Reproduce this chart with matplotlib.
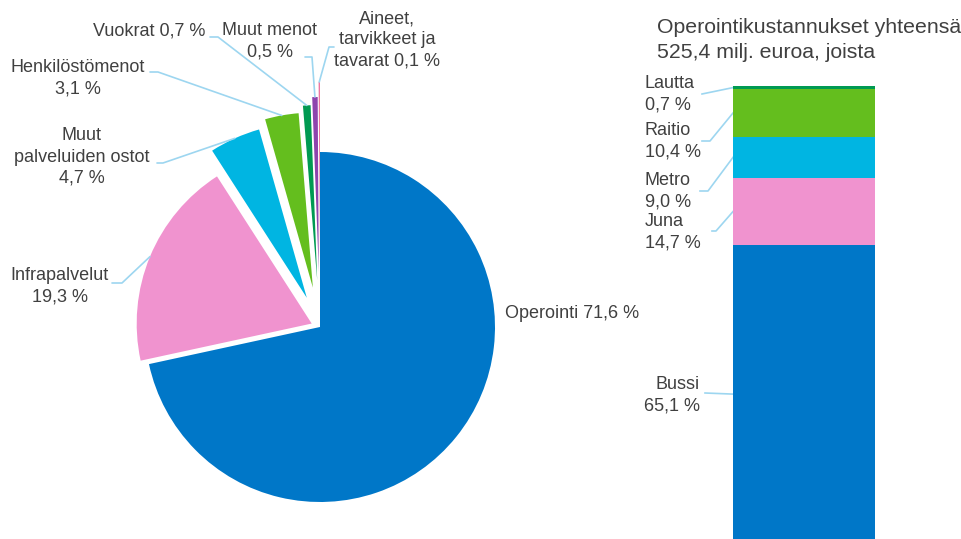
import numpy as np
import matplotlib
matplotlib.use("Agg")
import matplotlib.pyplot as plt

plt.rcParams['font.family'] = ['Liberation Sans', 'DejaVu Sans']

# pie: cost breakdown (%)
pie_labels = ['Operointi 71,6 %', 'Infrapalvelut\n19,3 %', 'Muut\npalveluiden ostot\n4,7 %',
              'Henkilöstömenot\n3,1 %', 'Vuokrat 0,7 %', 'Muut menot\n0,5 %',
              'Aineet,\ntarvikkeet ja\ntavarat 0,1 %']
pie_values = [71.6, 19.3, 4.7, 3.1, 0.7, 0.5, 0.1]
pie_colors = ['#0077c8', '#f093cf', '#00b5e2', '#64be1e', '#009a52', '#8e44ad', '#e8508a']

# stacked bar: operating costs by mode (%)
bar_labels = ['Bussi\n65,1 %', 'Juna\n14,7 %', 'Metro\n9,0 %', 'Raitio\n10,4 %', 'Lautta\n0,7 %']
bar_values = [65.1, 14.7, 9.0, 10.4, 0.7]
bar_colors = ['#0077c8', '#f093cf', '#00b5e2', '#64be1e', '#009a52']
bar_title = 'Operointikustannukset yhteensä\n525,4 milj. euroa, joista'

W, H = 962, 539
txt = '#404040'
lead = '#9dd6f0'
fs = 13

def py(y):
    # pixel row -> data y
    return H - y

fig = plt.figure(figsize=(W / 100, H / 100), dpi=100)
ax = fig.add_axes([0, 0, 1, 1])

# explode offsets in pixels
explode = [0, 9, 32, 40, 47, 55, 70]
wedges, _ = ax.pie(pie_values, center=(320, py(327)), radius=175, startangle=90,
                   counterclock=False, colors=pie_colors, explode=explode,
                   wedgeprops=dict(linewidth=0))
ax.set_xlim(0, W)
ax.set_ylim(0, H)
ax.set_aspect('auto')
ax.axis('off')

def wedge_tip(w):
    th = np.deg2rad((w.theta1 + w.theta2) / 2)
    cx, cy = w.center
    return cx + w.r * np.cos(th), cy + w.r * np.sin(th)

# label text anchors (x, y pixel, ha) and leader start points
pie_txt = [(505, 313, 'left'), (60, 286, 'center'), (82, 157, 'center'),
           (78, 78, 'center'), (205, 31, 'right'), (270, 41, 'center'),
           (387, 40, 'center')]
pie_lead = [None, [(112, 283), (122, 283)], [(157, 163), (163, 163)],
            [(150, 72), (158, 72)], [(210, 37), (218, 37)], [(305, 57), (312, 57)],
            [(334, 47), (329, 47)]]

for w, lab, (tx, ty, ha), ld in zip(wedges, pie_labels, pie_txt, pie_lead):
    ax.text(tx, py(ty), lab, ha=ha, va='center', fontsize=fs, color=txt,
            multialignment='center', linespacing=1.32)
    if ld is not None:
        ex, ey = wedge_tip(w)
        xs = [p[0] for p in ld] + [ex]
        ys = [py(p[1]) for p in ld] + [ey]
        ax.plot(xs, ys, color=lead, lw=1.2, solid_capstyle='round')

# stacked bar in its own axes
bx0, bx1, btop, bbot = 733, 875, 86, 543
bax = fig.add_axes([bx0 / W, (H - bbot) / H, (bx1 - bx0) / W, (bbot - btop) / H])
bottoms = np.concatenate([[0], np.cumsum(bar_values)[:-1]])
bax.bar([0] * len(bar_values), bar_values, bottom=bottoms, width=1, color=bar_colors,
        linewidth=0)
bax.set_xlim(-0.5, 0.5)
bax.set_ylim(0, sum(bar_values))
bax.axis('off')

bar_txt = [(700, 395, 'right'), (645, 232, 'left'), (645, 191, 'left'),
           (645, 141, 'left'), (645, 94, 'left')]
bar_lead = [[(705, 393)], [(712, 231), (716, 231)], [(700, 191), (708, 191)],
            [(702, 141), (710, 141)], [(702, 94)]]

for v, b, lab, (tx, ty, ha), ld in zip(bar_values, bottoms, bar_labels, bar_txt, bar_lead):
    ax.text(tx, py(ty), lab, ha=ha, va='center', fontsize=fs, color=txt,
            multialignment=ha, linespacing=1.32)
    # bar edge point at segment middle, in main-axes coords
    pt = ax.transData.inverted().transform(bax.transData.transform((-0.5, b + v / 2)))
    xs = [p[0] for p in ld] + [pt[0]]
    ys = [py(p[1]) for p in ld] + [pt[1]]
    ax.plot(xs, ys, color=lead, lw=1.2)

ax.text(657, py(40), bar_title, ha='left', va='center', fontsize=15.3, color=txt,
        linespacing=1.35)

fig.savefig('out.png', dpi=100)
